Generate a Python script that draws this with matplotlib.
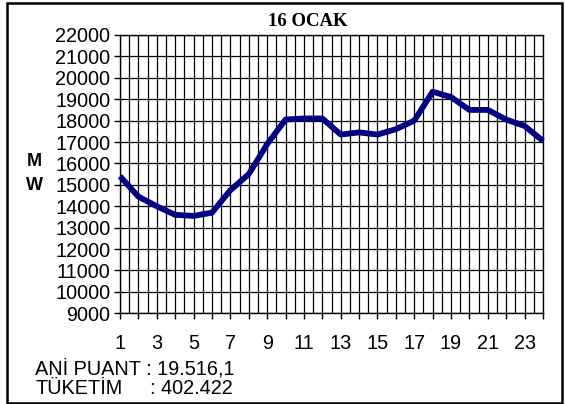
import numpy as np
import matplotlib
matplotlib.use("Agg")
import matplotlib.pyplot as plt
from matplotlib.patches import Rectangle

# hourly load, 16 January (MW)
hours = list(range(1, 25))
load_mw = [15400, 14450, 14000, 13600, 13550, 13700, 14750, 15500,
           16900, 18050, 18100, 18100, 17350, 17450, 17350, 17600,
           18000, 19350, 19100, 18500, 18500, 18050, 17750, 17050]
y_ticks = list(range(9000, 22001, 1000))
x_labels = [str(h) if h % 2 == 1 else "" for h in hours]
title = "16 OCAK"
peak_text = "ANİ PUANT : 19.516,1"
cons_label = "TÜKETİM"
cons_value = ": 402.422"

W, H = 565, 404
fig = plt.figure(figsize=(W / 100, H / 100), dpi=100)
ax = fig.add_axes([120 / W, 1 - 313.3 / H, 423 / W, 278.3 / H])

sans = "Liberation Sans"
fs = 14.3

ax.plot(hours, load_mw, color="#000080", lw=4.2, solid_joinstyle="round",
        solid_capstyle="butt", clip_on=False, zorder=5)

ax.set_xlim(1, 24)
ax.set_ylim(9000, 22000)
ax.set_xticks(hours)
ax.set_xticklabels(x_labels, fontfamily=sans, fontsize=fs)
ax.set_xticks(np.arange(1.5, 24, 1.0), minor=True)
ax.set_yticks(y_ticks)
ax.set_yticklabels([str(v) for v in y_ticks], fontfamily=sans, fontsize=fs)

ax.tick_params(axis="x", which="major", direction="out", length=4, width=1, pad=11)
ax.tick_params(axis="x", which="minor", length=0)
ax.tick_params(axis="y", direction="out", length=4.5, width=1, pad=2.5)

ax.grid(True, which="major", color="black", lw=0.9)
ax.grid(True, which="minor", axis="x", color="black", lw=0.9)
ax.set_axisbelow(True)
for s in ax.spines.values():
    s.set_color("black")
    s.set_linewidth(1)

fig.text(308 / W, 1 - 21 / H, title, ha="center", va="center",
         fontfamily="Liberation Serif", fontweight="bold", fontsize=13.5)
fig.text(34 / W, 1 - 162 / H, "M", ha="center", va="center",
         fontfamily=sans, fontweight="bold", fontsize=13)
fig.text(34 / W, 1 - 186 / H, "W", ha="center", va="center",
         fontfamily=sans, fontweight="bold", fontsize=13)

fig.text(35 / W, 1 - 369 / H, peak_text, ha="left", va="center",
         fontfamily=sans, fontsize=fs)
fig.text(35 / W, 1 - 389 / H, cons_label, ha="left", va="center",
         fontfamily=sans, fontsize=fs)
fig.text(150 / W, 1 - 389 / H, cons_value, ha="left", va="center",
         fontfamily=sans, fontsize=fs)

# outer frame
fig.patches.append(Rectangle((7 / W, 1 / H), 555 / W, 400 / H,
                             transform=fig.transFigure, fill=False,
                             edgecolor="black", lw=1.8))

fig.savefig("out.png", dpi=100)
